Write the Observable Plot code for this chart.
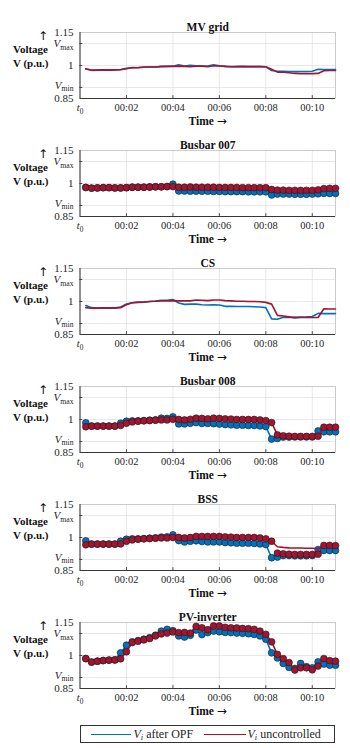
<!DOCTYPE html>
<html><head><meta charset="utf-8">
<script src="https://cdn.jsdelivr.net/npm/d3@7"></script>
<script src="https://cdn.jsdelivr.net/npm/@observablehq/plot@0.6"></script>
<style>
body{margin:0;background:#fff;width:350px;height:748px;font-family:"Liberation Serif","DejaVu Serif",serif;color:#262626;}
#charts{padding-top:12px;}
#charts svg{display:block;}
#legend{position:relative;margin-left:79.5px;margin-top:5px;width:253px;height:16px;border:1px solid #333;background:#fff;font-size:12px;}
#legend .sw{position:absolute;top:7.5px;height:1.6px;}
#legend .lt{position:absolute;top:0px;line-height:16px;white-space:nowrap;}
#legend sub{font-size:0.7em;font-style:italic;line-height:0;vertical-align:-0.25em;}
</style></head>
<body>
<div id="charts"></div>
<div id="legend"></div>
<script>
// ---- data ----
const times = [0.25,0.5,0.75,1,1.25,1.5,1.75,2,2.25,2.5,2.75,3,3.25,3.5,3.75,4,4.25,4.5,4.75,5,5.25,5.5,5.75,6,6.25,6.5,6.75,7,7.25,7.5,7.75,8,8.25,8.5,8.75,9,9.25,9.5,9.75,10,10.25,10.5,10.75,11];

const panelTitles = ["MV grid","Busbar 007","CS","Busbar 008","BSS","PV-inverter"];
const panelMarkers = [false,true,false,true,true,true];

const mvBlue = [0.984,0.979,0.979,0.979, 0.979,0.980,0.982,0.987, 0.990,0.991,0.993,0.993, 0.993,0.995,0.996,0.997, 1.003,0.998,1.001,0.999, 0.998,0.998,1.003,0.999, 0.996,0.995,0.995,0.996, 0.995,0.995,0.995,0.994, 0.977,0.974,0.974,0.973, 0.972,0.973,0.973,0.974, 0.983,0.982,0.982,0.982];
const mvRed = [0.985,0.978,0.979,0.980, 0.980,0.980,0.981,0.985, 0.991,0.990,0.992,0.993, 0.993,0.996,0.996,0.996, 0.997,0.996,0.995,0.997, 0.997,0.994,0.999,0.998, 0.996,0.994,0.995,0.995, 0.995,0.995,0.995,0.994, 0.983,0.970,0.969,0.967, 0.964,0.963,0.963,0.963, 0.964,0.976,0.977,0.977];

const b007Blue = [0.982,0.979,0.980,0.981, 0.981,0.980,0.980,0.981, 0.983,0.983,0.983,0.984, 0.985,0.985,0.986,0.997, 0.966,0.966,0.965,0.965, 0.965,0.965,0.964,0.964, 0.963,0.963,0.963,0.963, 0.962,0.962,0.962,0.962, 0.948,0.952,0.952,0.952, 0.951,0.951,0.951,0.952, 0.953,0.955,0.955,0.955];
const b007Red = [0.982,0.979,0.980,0.981, 0.981,0.980,0.980,0.981, 0.983,0.983,0.983,0.984, 0.985,0.985,0.986,0.986, 0.983,0.983,0.984,0.983, 0.983,0.983,0.983,0.982, 0.982,0.982,0.982,0.981, 0.981,0.981,0.981,0.981, 0.973,0.970,0.970,0.969, 0.969,0.969,0.969,0.969, 0.971,0.977,0.978,0.978];

const csBlue = [0.982,0.972,0.970,0.970, 0.970,0.970,0.975,0.989, 0.994,0.997,0.998,1.000, 1.002,1.006,1.006,1.009, 0.993,0.987,0.988,0.988, 0.985,0.984,0.985,0.984, 0.978,0.978,0.977,0.977, 0.977,0.976,0.975,0.972, 0.921,0.919,0.928,0.928, 0.929,0.929,0.930,0.932, 0.946,0.945,0.945,0.945];
const csRed = [0.972,0.969,0.970,0.971, 0.971,0.971,0.972,0.985, 0.994,0.996,0.997,1.000, 1.001,1.003,1.003,1.004, 1.003,1.003,1.003,1.007, 1.006,1.004,1.007,1.007, 1.004,1.003,1.001,1.001, 1.000,1.000,0.999,0.996, 0.988,0.937,0.934,0.930, 0.925,0.927,0.927,0.927, 0.927,0.967,0.966,0.966];

const b008Blue = [0.985,0.970,0.970,0.970, 0.970,0.970,0.983,0.992, 0.994,0.994,0.995,0.997, 0.998,1.006,1.005,1.012, 0.980,0.980,0.983,0.986, 0.982,0.982,0.981,0.979, 0.977,0.976,0.974,0.974, 0.973,0.973,0.971,0.968, 0.911,0.914,0.920,0.920, 0.921,0.921,0.921,0.921, 0.948,0.944,0.944,0.944];
const b008Red = [0.967,0.970,0.970,0.970, 0.970,0.970,0.973,0.983, 0.989,0.992,0.994,0.995, 0.997,0.998,0.998,1.001, 1.000,0.998,1.001,1.006, 1.005,1.003,1.006,1.005, 1.003,1.002,1.000,1.000, 1.000,1.000,0.998,0.995, 0.986,0.930,0.926,0.924, 0.923,0.923,0.923,0.923, 0.924,0.965,0.965,0.965];

const bssBlue = [0.985,0.970,0.970,0.970, 0.970,0.970,0.983,0.992, 0.994,0.994,0.995,0.997, 0.998,1.002,1.003,1.012, 0.986,0.980,0.983,0.985, 0.982,0.980,0.980,0.980, 0.977,0.976,0.974,0.974, 0.974,0.973,0.971,0.968, 0.908,0.911,0.918,0.918, 0.917,0.917,0.917,0.918, 0.945,0.941,0.941,0.941];
const bssRed = [0.967,0.970,0.970,0.970, 0.970,0.970,0.971,0.983, 0.989,0.992,0.994,0.995, 0.997,0.998,0.998,1.000, 1.000,0.998,1.000,1.005, 1.005,1.005,1.005,1.005, 1.003,1.002,1.000,1.000, 1.000,1.000,0.998,0.994, 0.983,0.929,0.926,0.924, 0.923,0.923,0.923,0.923, 0.924,0.964,0.964,0.963];
const bssRedLine = [0.967,0.970,0.970,0.970, 0.970,0.970,0.971,0.983, 0.989,0.992,0.994,0.995, 0.997,0.998,0.998,1.000, 1.000,0.998,1.000,1.005, 1.005,1.005,1.005,1.005, 1.003,1.002,1.000,1.000, 1.000,1.000,0.998,0.994, 0.983,0.958,0.955,0.953, 0.952,0.952,0.951,0.951, 0.949,0.964,0.964,0.963];

const pvBlue = [0.986,0.970,0.974,0.977, 0.979,0.980,1.012,1.047, 1.062,1.068,1.074,1.081, 1.092,1.111,1.119,1.113, 1.089,1.084,1.092,1.116, 1.095,1.104,1.111,1.108, 1.105,1.104,1.102,1.101, 1.099,1.096,1.089,1.074, 1.012,0.989,0.964,0.946, 0.941,0.964,0.949,0.944, 0.971,0.961,0.956,0.956];
const pvRed = [0.986,0.970,0.974,0.977, 0.979,0.980,0.985,1.017, 1.059,1.065,1.071,1.077, 1.089,1.098,1.102,1.107, 1.104,1.105,1.102,1.132, 1.126,1.117,1.134,1.134, 1.128,1.126,1.125,1.123, 1.122,1.119,1.111,1.096, 1.062,1.005,0.986,0.968, 0.934,0.944,0.944,0.935, 0.952,0.986,0.977,0.974];

const blueSeries = [mvBlue,b007Blue,csBlue,b008Blue,bssBlue,pvBlue];
const redSeries = [mvRed,b007Red,csRed,b008Red,bssRed,pvRed];
const redLineSeries = [mvRed,b007Red,csRed,b008Red,bssRedLine,pvRed];

const xTickValues = [0,2,4,6,8,10];
const xTickLabels = ["t0","00:02","00:04","00:06","00:08","00:10"];
const yTickValues = [0.85,0.9,1.0,1.1,1.15];
const yTickLabels = ["0.85","Vmin","1","Vmax","1.15"];
const yGridValues = [0.9,1.0,1.1];
const yLabelLines = ["↑","Voltage","V (p.u.)"];
const xAxisLabel = "Time →";

// ---- style ----
const blueColor = "#0072BD", redColor = "#A2142F", axisColor = "#262626";
const NS = "http://www.w3.org/2000/svg";

function subLabel(el, base, sub, shift) {
  el.textContent = "";
  const a = document.createElementNS(NS, "tspan");
  a.setAttribute("font-style", "italic");
  a.textContent = base;
  const b = document.createElementNS(NS, "tspan");
  b.setAttribute("font-size", "0.7em");
  b.setAttribute("dy", "0.35em");
  b.textContent = sub;
  el.append(a, b);
  if (shift) el.setAttribute("transform", (el.getAttribute("transform") || "") + ` translate(0,${shift})`);
}
function arrowLabel(el, word, arrow) {
  el.textContent = "";
  const a = document.createElementNS(NS, "tspan");
  a.textContent = word;
  const b = document.createElementNS(NS, "tspan");
  b.setAttribute("font-family", '"DejaVu Sans", sans-serif');
  b.setAttribute("font-weight", "normal");
  b.setAttribute("font-size", "12");
  b.textContent = arrow;
  el.append(a, b);
}

const charts = document.getElementById("charts");
panelTitles.forEach((title, i) => {
  const blue = times.map((t, k) => ({t, v: blueSeries[i][k]}));
  const red = times.map((t, k) => ({t, v: redSeries[i][k]}));
  const redLine = times.map((t, k) => ({t, v: redLineSeries[i][k]}));
  const marks = [
    Plot.ruleX(xTickValues.slice(1), {stroke: "#dedede", strokeWidth: 0.7}),
    Plot.ruleY(yGridValues, {stroke: "#dedede", strokeWidth: 0.7}),
    Plot.frame({stroke: "#b5b5b5", strokeWidth: 0.7}),
    Plot.ruleY(yGridValues, {x1: 0, x2: 0.12, stroke: axisColor, strokeWidth: 0.8}),
    Plot.ruleX(xTickValues.slice(1), {y1: 0.85, y2: 0.863, stroke: axisColor, strokeWidth: 0.8}),
    Plot.ruleX([0], {stroke: axisColor, strokeWidth: 0.9}),
    Plot.ruleY([0.85], {stroke: axisColor, strokeWidth: 0.9}),
    Plot.line(blue, {x: "t", y: "v", stroke: blueColor, strokeWidth: 1.6})
  ];
  if (panelMarkers[i]) marks.push(Plot.dot(blue, {x: "t", y: "v", r: 3.4, fill: blueColor, stroke: "#1b1b1b", strokeWidth: 0.6}));
  marks.push(Plot.line(redLine, {x: "t", y: "v", stroke: redColor, strokeWidth: 1.6}));
  if (panelMarkers[i]) marks.push(Plot.dot(red, {x: "t", y: "v", r: 3.4, fill: redColor, stroke: "#1b1b1b", strokeWidth: 0.6}));
  marks.push(
    Plot.text([title], {text: d => d, frameAnchor: "top", dy: -10, fontWeight: "bold", fontSize: 11.5, fill: "#111"}),
    Plot.text([xAxisLabel], {text: d => d, frameAnchor: "bottom", dy: 26, fontWeight: "bold", fontSize: 11.5, fill: "#111"}),
    Plot.text([yLabelLines[0]], {text: d => d, frameAnchor: "top-left", dx: -32, dy: -1.5, textAnchor: "end", fontSize: 12, fill: "#111"}),
    Plot.text([yLabelLines[1]], {text: d => d, frameAnchor: "top-left", dx: -32, dy: 12.5, textAnchor: "end", fontWeight: "bold", fontSize: 11, fill: "#111"}),
    Plot.text([yLabelLines[2]], {text: d => d, frameAnchor: "top-left", dx: -31.5, dy: 26.5, textAnchor: "end", fontWeight: "bold", fontSize: 11, fill: "#111"})
  );
  const svg = Plot.plot({
    width: 350, height: 118,
    marginLeft: 79.5, marginRight: 15, marginTop: 20, marginBottom: 32,
    style: {fontFamily: '"Liberation Serif", serif', fontSize: "11px", color: axisColor, background: "white", overflow: "visible"},
    x: {domain: [0, 11], ticks: xTickValues, tickFormat: d => xTickLabels[xTickValues.indexOf(d)], tickSize: 0, tickPadding: 5, label: null},
    y: {domain: [0.85, 1.15], ticks: yTickValues, tickFormat: d => yTickLabels[yTickValues.indexOf(d)], tickSize: 0, tickPadding: 6.5, label: null},
    marks
  });
  svg.querySelectorAll("path.domain").forEach(p => p.remove());
  svg.querySelectorAll("text").forEach(el => {
    const s = el.textContent;
    if (xTickLabels.includes(s)) el.setAttribute("font-size", "10.5");
    if (s === "Vmax") subLabel(el, "V", "max", 0);
    else if (s === "Vmin") subLabel(el, "V", "min", -2.5);
    else if (s === "t0") subLabel(el, "t", "0", 0);
    else if (s === xAxisLabel) arrowLabel(el, "Time ", "→");
    else if (s === yLabelLines[0]) el.setAttribute("font-family", '"DejaVu Sans", sans-serif');
  });
  charts.appendChild(svg);
});

// legend
const legend = document.getElementById("legend");
legend.innerHTML = `
  <span class="sw" style="left:10px;width:40px;background:${blueColor}"></span>
  <span class="lt" style="left:53px"><i>V</i><sub>i</sub> after OPF</span>
  <span class="sw" style="left:123px;width:42px;background:${redColor}"></span>
  <span class="lt" style="left:167px"><i>V</i><sub>i</sub> uncontrolled</span>`;
</script>
</body></html>
